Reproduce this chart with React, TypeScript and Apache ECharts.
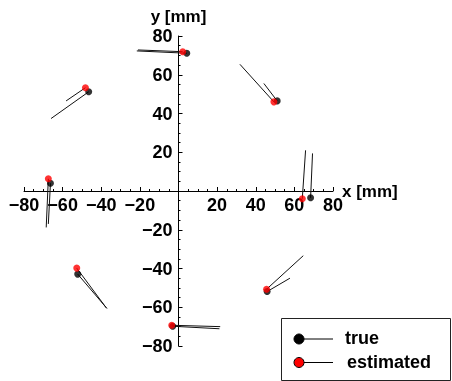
import React, { useEffect, useRef } from "react";
import * as echarts from "echarts";

const trueX = [4.3, -46.5, -66.3, -52.2, -3.0, 45.9, 68.4, 51.1];
const trueY = [71.1, 51.2, 4.0, -42.9, -69.8, -51.9, -3.5, 46.5];
const estX = [2.2, -48.2, -67.4, -52.7, -3.5, 45.6, 64.1, 49.4];
const estY = [71.9, 53.3, 6.3, -39.8, -69.3, -50.7, -4.0, 46.0];
// end points of direction segments
const trueEndX = [-21.6, -66.0, -67.4, -37.0, 21.2, 57.7, 69.4, 44.2];
const trueEndY = [72.3, 37.4, -17.0, -60.7, -71.1, -45.0, 19.4, 55.5];
const estEndX = [-21.0, -58.2, -68.5, -37.4, 21.6, 64.6, 65.8, 31.8];
const estEndY = [72.8, 46.5, -18.8, -60.3, -70.0, -33.4, 21.0, 65.4];
const axisMin = -80;
const axisMax = 80;
const axisStep = 20;

const FONT = "'Liberation Sans', Arial, sans-serif";

function fmt(v: number): string {
  if (v === 0) return "";
  return v < 0 ? "\u2212" + Math.abs(v) : String(v);
}

const GRID_W = 309;
const GRID_H = 310;

export default function App() {
  const ref = useRef<HTMLDivElement>(null);
  useEffect(() => {
    if (!ref.current) return;
    const chart = echarts.init(ref.current, undefined, { renderer: "svg" });
    const segs: any[] = [];
    for (let i = 0; i < trueX.length; i++) {
      segs.push({ coords: [[trueX[i], trueY[i]], [trueEndX[i], trueEndY[i]]] });
      segs.push({ coords: [[estX[i], estY[i]], [estEndX[i], estEndY[i]]] });
    }
    const axisCommon = {
      type: "value",
      min: axisMin,
      max: axisMax,
      interval: axisStep,
      splitLine: { show: false },
      axisLine: { show: true, onZero: false, lineStyle: { color: "#000", width: 1 } },
      axisTick: { show: true, inside: true, length: 4, lineStyle: { color: "#000" } },
      minorTick: { show: true, splitNumber: 4, length: 2, lineStyle: { color: "#000" } },
      nameMoveOverlap: false,
      nameTextStyle: { fontFamily: FONT, fontWeight: "bold", fontSize: 17, color: "#000" },
    };
    chart.setOption({
      animation: false,
      grid: { left: 24, top: 36, width: GRID_W, height: GRID_H, containLabel: false, outerBoundsMode: "none" },
      xAxis: {
        ...axisCommon,
        position: "bottom",
        offset: -GRID_H / 2,
        name: "x [mm]",
        nameLocation: "end",
        nameGap: 9,
        axisLabel: { formatter: fmt, margin: 5, fontFamily: FONT, fontWeight: "bold", fontSize: 18, color: "#000" },
      },
      yAxis: {
        ...axisCommon,
        position: "left",
        offset: -GRID_W / 2,
        name: "y [mm]",
        nameLocation: "end",
        nameGap: 11,
        axisLabel: { formatter: fmt, margin: 6, fontFamily: FONT, fontWeight: "bold", fontSize: 18, color: "#000" },
      },
      series: [
        {
          type: "lines",
          coordinateSystem: "cartesian2d",
          data: segs,
          lineStyle: { color: "#111", width: 1, opacity: 1 },
          silent: true,
          z: 2,
        },
        {
          type: "scatter",
          name: "true",
          data: trueX.map((x, i) => [x, trueY[i]]),
          symbol: "circle",
          symbolSize: 7,
          itemStyle: { color: "#000" },
          z: 3,
        },
        {
          type: "scatter",
          name: "estimated",
          data: estX.map((x, i) => [x, estY[i]]),
          symbol: "circle",
          symbolSize: 7,
          itemStyle: { color: "#f00" },
          z: 4,
        },
      ],
      graphic: [
        {
          type: "rect",
          shape: { x: 281.5, y: 318.5, width: 169, height: 62 },
          style: { fill: "#fff", stroke: "#222", lineWidth: 1 },
          z: 10,
        },
        { type: "line", shape: { x1: 299, y1: 339, x2: 333, y2: 339 }, style: { stroke: "#000", lineWidth: 1 }, z: 11 },
        { type: "circle", shape: { cx: 299, cy: 339, r: 5 }, style: { fill: "#000", stroke: "#000", lineWidth: 1 }, z: 12 },
        {
          type: "text",
          x: 345,
          y: 338,
          style: { text: "true", fontFamily: FONT, fontWeight: "bold", fontSize: 18, fill: "#000", verticalAlign: "middle", textAlign: "left" },
          z: 12,
        },
        { type: "line", shape: { x1: 299, y1: 362.5, x2: 333, y2: 362.5 }, style: { stroke: "#000", lineWidth: 1 }, z: 11 },
        { type: "circle", shape: { cx: 299, cy: 362.5, r: 5 }, style: { fill: "#f00", stroke: "#000", lineWidth: 1 }, z: 12 },
        {
          type: "text",
          x: 347,
          y: 362,
          style: { text: "estimated", fontFamily: FONT, fontWeight: "bold", fontSize: 18, fill: "#000", verticalAlign: "middle", textAlign: "left" },
          z: 12,
        },
      ],
    });
    return () => chart.dispose();
  }, []);
  return <div ref={ref} style={{ position: "fixed", left: 0, top: 0, width: 452, height: 381 }} />;
}
